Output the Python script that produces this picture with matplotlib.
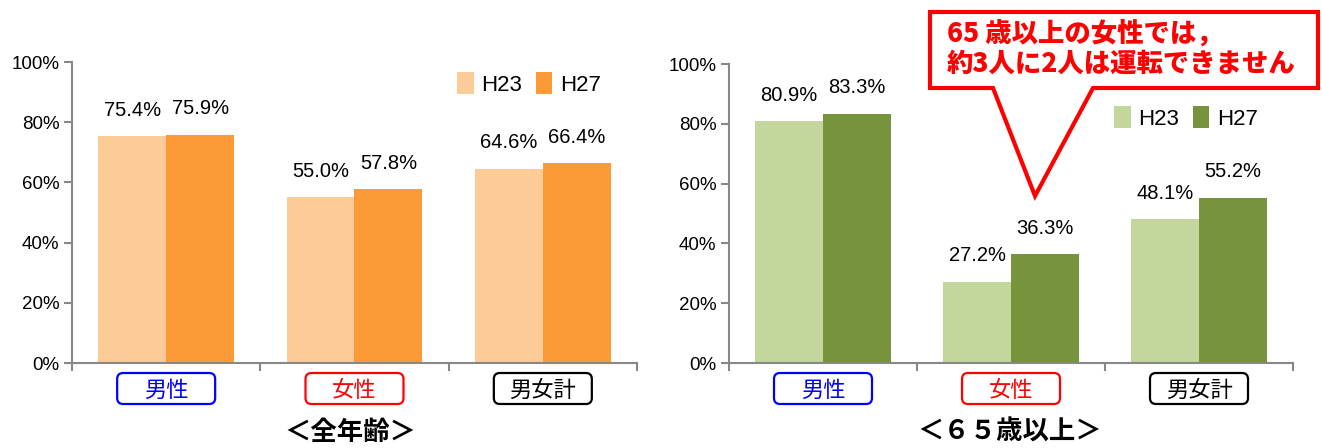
import matplotlib
matplotlib.use("Agg")
import matplotlib.pyplot as plt
import numpy as np
from matplotlib.patches import Polygon, FancyBboxPatch
import matplotlib.transforms as mtransforms

plt.rcParams['font.family'] = ['Liberation Sans', 'Noto Sans CJK JP', 'DejaVu Sans']

categories = ['男性', '女性', '男女計']
cat_colors = ['#0000FF', '#FF0000', '#000000']
series_names = ['H23', 'H27']
all_h23 = [75.4, 55.0, 64.6]
all_h27 = [75.9, 57.8, 66.4]
old_h23 = [80.9, 27.2, 48.1]
old_h27 = [83.3, 36.3, 55.2]
yticks = [0, 20, 40, 60, 80, 100]
ytick_labels = ['0%', '20%', '40%', '60%', '80%', '100%']
title_all = '＜全年齢＞'
title_old = '＜６５歳以上＞'
callout_lines = ['65 歳以上の女性では，', '約3人に2人は運転できません']

W, H = 1322, 448
fig = plt.figure(figsize=(W / 100, H / 100), dpi=100)

def fx(px):
    return px / W

def fy(py):
    return 1 - py / H

ax1 = fig.add_axes([fx(72), fy(363), fx(637) - fx(72), fy(62) - fy(363)])
ax2 = fig.add_axes([fx(729), fy(363), fx(1293) - fx(729), fy(64) - fy(363)])

cjk = ['Noto Sans CJK JP', 'DejaVu Sans']
num_font = ['Liberation Sans', 'DejaVu Sans']
pix = mtransforms.IdentityTransform()

def draw(ax, h23, h27, colors, legend_anchor):
    x = np.arange(len(categories))
    w = 0.36
    b1 = ax.bar(x - w / 2, h23, w, color=colors[0], label=series_names[0], zorder=2)
    b2 = ax.bar(x + w / 2, h27, w, color=colors[1], label=series_names[1], zorder=2)
    for bars, vals in ((b1, h23), (b2, h27)):
        for r, v in zip(bars, vals):
            ax.annotate(f'{v:.1f}%', (r.get_x() + r.get_width() / 2, v),
                        xytext=(0, 26 * 72 / 100), textcoords='offset points',
                        ha='center', va='center', fontsize=14.5, family=num_font)
    ax.set_xlim(-0.5, 2.5)
    ax.set_ylim(0, 100)
    ax.set_yticks(yticks)
    ax.set_yticklabels(ytick_labels, family=num_font, fontsize=13.5)
    ax.set_xticks([-0.5, 0.5, 1.5, 2.5])
    ax.set_xticklabels([])
    for s in ('top', 'right'):
        ax.spines[s].set_visible(False)
    for s in ('left', 'bottom'):
        ax.spines[s].set_color('#888888')
        ax.spines[s].set_linewidth(1.5)
    ax.tick_params(axis='both', color='#888888', width=1.5, length=6)
    ax.tick_params(axis='y', pad=3)
    for i, (c, col) in enumerate(zip(categories, cat_colors)):
        cx, _ = ax.transData.transform((i, 0))
        cy = H - 388.5
        bw, bh = 98, 31
        box = FancyBboxPatch((cx - bw / 2, cy - bh / 2), bw, bh,
                             boxstyle='round,pad=0,rounding_size=6',
                             transform=pix, fc='white', ec=col, lw=1.6, zorder=5)
        fig.add_artist(box)
        fig.text(cx / W, (cy - 2) / H, c, ha='center', va='center', fontsize=16,
                 color=col, family=cjk, zorder=6)
    ax.legend(loc='center left', bbox_to_anchor=legend_anchor,
              bbox_transform=fig.transFigure, ncol=2, frameon=False,
              handlelength=0.75, handleheight=1.1,
              handletextpad=0.35, columnspacing=0.6, borderpad=0, borderaxespad=0,
              prop={'family': num_font, 'size': 16})
    return ax

draw(ax1, all_h23, all_h27, ['#FDCB97', '#FD9A38'], (fx(457), fy(84)))
draw(ax2, old_h23, old_h27, ['#C3D69B', '#77933C'], (fx(1114), fy(118)))

fig.text(fx(350), fy(432), title_all, ha='center', va='center', fontsize=19,
         fontweight='bold', family=cjk)
fig.text(fx(1010), fy(432), title_old, ha='center', va='center', fontsize=19,
         fontweight='bold', family=cjk)

# callout
pts = [(930, 12), (1318, 12), (1318, 88), (1093, 88), (1035, 196), (993, 88), (930, 88)]
poly = Polygon([(fx(px), fy(py)) for px, py in pts], closed=True, transform=fig.transFigure,
               fc='white', ec='#FF0000', lw=3, zorder=10)
fig.add_artist(poly)
fig.text(fx(947), fy(33), callout_lines[0], ha='left', va='center', fontsize=19,
         fontweight='heavy', color='#FF0000', family=cjk, zorder=11)
fig.text(fx(947), fy(63), callout_lines[1], ha='left', va='center', fontsize=19,
         fontweight='heavy', color='#FF0000', family=cjk, zorder=11)

fig.savefig('out.png', dpi=100)
